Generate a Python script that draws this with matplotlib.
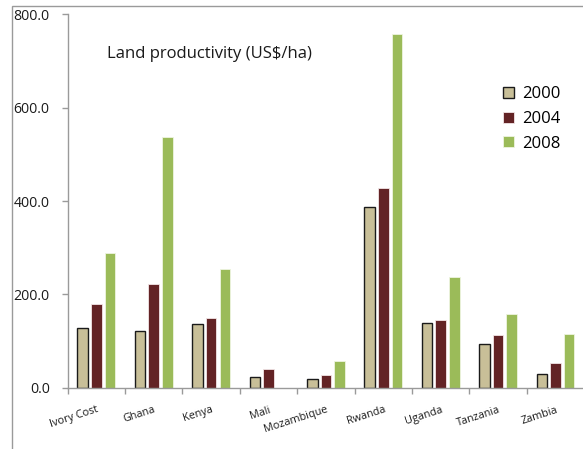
import matplotlib
matplotlib.use("Agg")
import matplotlib.pyplot as plt
from matplotlib.patches import Rectangle
import numpy as np

plt.rcParams['font.family'] = ['Open Sans', 'DejaVu Sans']

countries = ["Ivory Cost", "Ghana", "Kenya", "Mali", "Mozambique",
             "Rwanda", "Uganda", "Tanzania", "Zambia"]
years = ["2000", "2004", "2008"]
v2000 = [128, 121, 137, 24, 19, 387, 139, 94, 29]
v2004 = [180, 222, 149, 41, 28, 428, 145, 114, 53]
v2008 = [289, 537, 255, 0, 57, 757, 237, 159, 116]
y_ticks = [0, 200, 400, 600, 800]

colors = ["#C8BF98", "#632325", "#9BBB59"]
edges = ["#1a1a1a", "#F2E6E6", "#EEF5E0"]

fig = plt.figure(figsize=(5.83, 4.49), dpi=100)
ax = fig.add_axes([0.1161, 0.1365, 0.886, 0.8316])

# outer chart border
fig.patches.append(Rectangle((12 / 583, -0.05), 1.2, (449 - 6) / 449 + 0.05,
                             transform=fig.transFigure, fill=False,
                             edgecolor="#9a9a9a", linewidth=1.0))

x = np.arange(len(countries)) + 0.5
width = 0.185
pitch = 0.238
for i, (vals, c, e, lab) in enumerate(zip([v2000, v2004, v2008], colors, edges, years)):
    lw = 1.0 if i == 0 else 0.6
    ax.bar(x + (i - 1) * pitch, vals, width, color=c, edgecolor=e,
           linewidth=lw, label=lab)

ax.set_xlim(0, len(countries))
ax.set_ylim(0, 800)
ax.set_yticks(y_ticks)
ax.set_yticklabels([f"{v:.1f}" for v in y_ticks], fontsize=10.2, color="#1a1a1a")
ax.set_xticks(np.arange(len(countries) + 1))
ax.set_xticklabels([])
ax.set_xticks(x, minor=True)
ax.set_xticklabels(countries, minor=True, rotation=18, ha="right",
                   rotation_mode="anchor", fontsize=7.8, color="#1a1a1a")
ax.tick_params(axis="x", which="minor", length=0, pad=12)
ax.tick_params(axis="x", which="major", length=4, color="#9a9a9a", width=1)
ax.tick_params(axis="y", length=4, color="#9a9a9a", width=1, pad=9)

for s in ["top", "right"]:
    ax.spines[s].set_visible(False)
for s in ["left", "bottom"]:
    ax.spines[s].set_color("#9a9a9a")
    ax.spines[s].set_linewidth(1.0)

ax.text(0.076, 0.895, "Land productivity (US$/ha)", transform=ax.transAxes,
        fontsize=12, color="#1a1a1a", va="center", ha="left")

leg = ax.legend(loc="upper left", bbox_to_anchor=(0.83, 0.825), frameon=False,
                fontsize=12, handlelength=0.65, handleheight=0.65,
                handletextpad=0.5, labelspacing=0.52, borderaxespad=0)

fig.savefig("out.png", dpi=100)
